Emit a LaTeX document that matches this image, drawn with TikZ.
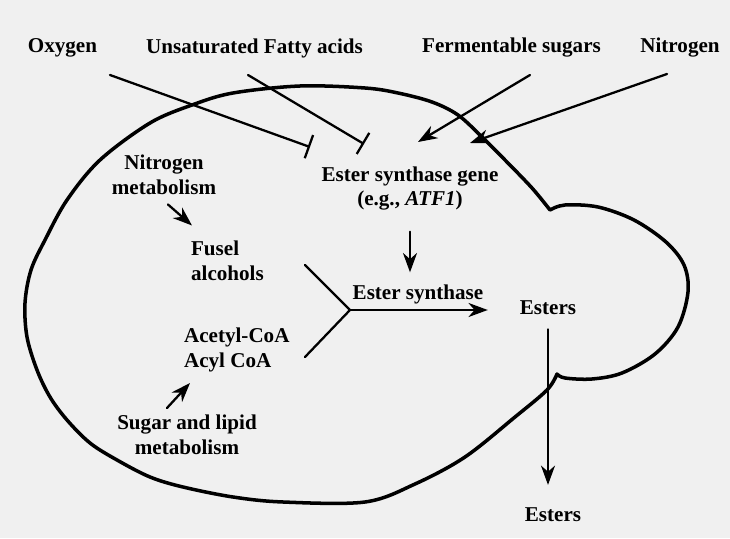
\documentclass[tikz,border=0pt]{standalone}
\usepackage{fontspec}
\setmainfont{Liberation Serif}
\usetikzlibrary{arrows.meta}

\tikzset{
  lbl/.style={font=\bfseries\fontsize{12}{14.2}\selectfont, inner sep=1pt},
  arr/.style={-{Stealth[length=11pt,width=8pt,inset=3.5pt]}, line width=1.3pt},
  blk/.style={-{Bar[width=14pt,line width=1.3pt]}, line width=1.3pt},
}

\begin{document}
\begin{tikzpicture}[line cap=round, line join=round]
    % page
    \fill[black!6] (0,0) rectangle (14.6,10.76);

    % --- cell outline ---
    \draw[line width=2pt]
      plot[smooth, tension=0.55] coordinates {
        (11.00,6.56) (10.64,7.00) (10.10,7.56) (9.64,8.02) (9.16,8.46)
        (8.64,8.72) (7.96,8.90) (7.30,9.00) (6.00,9.04) (4.66,8.90)
        (3.84,8.66) (3.00,8.30) (2.00,7.56) (1.34,6.76) (0.90,5.96)
        (0.62,5.36) (0.50,4.70) (0.54,4.02) (0.74,3.36) (1.00,2.82)
        (1.34,2.36) (1.80,1.90) (2.34,1.56) (3.00,1.22) (3.66,1.02)
        (4.66,0.82) (5.66,0.72) (7.30,0.72) (8.30,1.08) (9.30,1.62)
        (10.30,2.42) (10.94,2.96) (11.14,3.28)}
      -- plot[smooth, tension=0.55] coordinates {
        (11.14,3.28) (11.30,3.20) (11.84,3.18) (12.44,3.30) (13.10,3.68)
        (13.56,4.22) (13.76,4.92) (13.68,5.46) (13.32,5.92) (12.68,6.36)
        (11.96,6.62) (11.30,6.66) (11.00,6.56)}
      -- cycle;

    % --- outside inputs ---
    \node[lbl] (oxy) at (1.25,9.80) {Oxygen};
    \node[lbl] (ufa) at (5.09,9.80) {Unsaturated Fatty acids};
    \node[lbl] (sug) at (10.23,9.80) {Fermentable sugars};
    \node[lbl] (nit) at (13.60,9.80) {Nitrogen};

    % --- inside the cell ---
    \node[lbl, align=center] (nitmet) at (3.28,7.27) {Nitrogen\\metabolism};
    \node[lbl, align=left, anchor=west] (fusel) at (3.78,5.55) {Fusel\\alcohols};
    \node[lbl, align=left, anchor=west] (acyl) at (3.64,3.77) {Acetyl-CoA\\Acyl CoA};
    \node[lbl, align=center] (lipid) at (3.74,2.06) {Sugar and lipid\\metabolism};
    \node[lbl, align=center] (gene) at (8.20,6.99) {Ester synthase gene\\(e.g., \textit{ATF1})};
    \node[lbl] (synth) at (8.36,4.88) {Ester synthase};
    \node[lbl] (est) at (10.96,4.60) {Esters};
    \node[lbl] (estout) at (11.06,0.46) {Esters};

    % free ends of the input lines
    \coordinate (oxyS) at (2.20,9.26);
    \coordinate (oxyE) at (6.20,7.82);
    \coordinate (ufaS) at (4.96,9.26);
    \coordinate (ufaE) at (7.28,7.88);
    \coordinate (sugS) at (10.60,9.26);
    \coordinate (sugE) at (8.36,7.92);
    \coordinate (nitS) at (13.34,9.28);
    \coordinate (nitE) at (9.40,7.90);

    \draw[blk] (oxyS) -- (oxyE);
    \draw[blk] (ufaS) -- (ufaE);
    \draw[arr] (sugS) -- (sugE);
    \draw[arr] (nitS) -- (nitE);

    % small arrows
    \draw[arr] (nitmet.south) ++(0.08,-0.16) -- ++(0.48,-0.42);
    \draw[arr] (lipid.north) ++(-0.40,0.10) -- ++(0.46,0.50);
    \draw[arr, shorten <=0.38cm, shorten >=0.2cm] (gene.south) -- (gene.south |- synth.north);

    % fork into ester synthase
    \coordinate (fusS) at (6.10,5.46);
    \coordinate (acyS) at (6.10,3.62);
    \coordinate (fork) at (7.00,4.56);
    \draw[line width=1.3pt] (fusS) -- (fork) -- (acyS);
    \draw[arr, shorten >=0.6cm] (fork) -- (fork -| est.west);

    % esters leave the cell
    \draw[arr, line width=0.9pt, shorten <=0.24cm, shorten >=0.42cm]
      (est.south) -- (est.south |- estout.north);
\end{tikzpicture}
\end{document}
